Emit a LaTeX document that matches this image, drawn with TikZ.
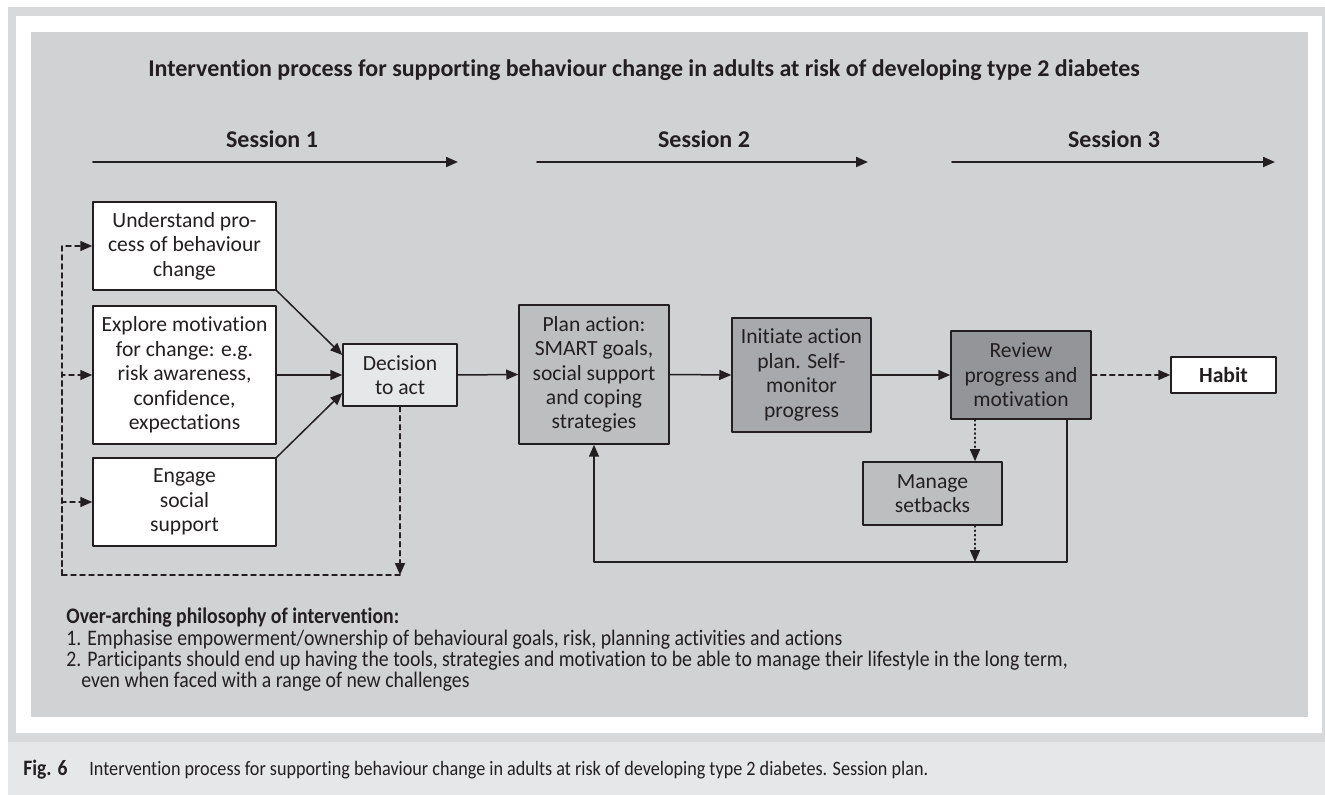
\documentclass[tikz,border=0pt]{standalone}
\usepackage{fontspec}
\setmainfont{Carlito}[Ligatures=NoCommon]
\newfontfamily\condfont[FakeStretch=0.89,Ligatures=NoCommon]{Carlito}
\usetikzlibrary{arrows.meta}

\definecolor{framegrey}{RGB}{216,217,219}
\definecolor{panelgrey}{RGB}{209,210,212}
\definecolor{capgrey}{RGB}{230,231,232}
\definecolor{lightbox}{RGB}{230,231,232}
\definecolor{midbox}{RGB}{188,190,192}
\definecolor{darkbox}{RGB}{167,169,172}
\definecolor{darkerbox}{RGB}{147,149,152}
\definecolor{inkgrey}{RGB}{35,31,32}

\begin{document}
\begin{tikzpicture}[line cap=round,line join=round,>={Triangle[length=6pt,width=5pt]},x=0.5pt,y=-0.5pt,
  box/.style={draw=inkgrey,line width=0.75pt,align=center,inner sep=0pt,text=inkgrey,
    font=\fontsize{10.8}{12.2}\selectfont},
  headline/.style={text=inkgrey,font=\bfseries\fontsize{12}{14}\selectfont},
  note/.style={anchor=west,inner sep=0pt,text=inkgrey,font=\condfont\fontsize{11.1}{13}\selectfont},
  link/.style={draw=inkgrey,line width=0.75pt},
  dashlink/.style={link,dash pattern=on 2.5pt off 2pt},
  dotlink/.style={link,dash pattern=on 0.6pt off 1.6pt},
  sessionarrow/.style={draw=inkgrey,line width=1pt}]
\useasboundingbox (0,0) rectangle (1325,795);
%background and frame
\fill[framegrey] (8,7) rectangle (1325,742);
\fill[white] (16,16) rectangle (1322,733);
\fill[panelgrey] (31,32) rectangle (1308,717);
\fill[capgrey] (8,742) rectangle (1325,795);

\node[headline] (title) at (644,70) {Intervention process for supporting behaviour change in adults at risk of developing type 2 diabetes};

%sessions
\node[headline] (ses1) at (272,139) {Session 1};
\node[headline] (ses2) at (704,139) {Session 2};
\node[headline] (ses3) at (1114,139) {Session 3};
\coordinate (s1a) at (93,162);
\coordinate (s1b) at (458,162);
\coordinate (s2a) at (537,162);
\coordinate (s2b) at (868,162);
\coordinate (s3a) at (952,162);
\coordinate (s3b) at (1275,162);
\draw[sessionarrow,->] (s1a) -- (s1b);
\draw[sessionarrow,->] (s2a) -- (s2b);
\draw[sessionarrow,->] (s3a) -- (s3b);

%boxes
\node[box,fill=white,minimum width=91.5pt,minimum height=44pt] (und) at (184.5,246) {Understand pro-\\cess of behaviour\\change};
\node[box,fill=white,minimum width=91.5pt,minimum height=69pt] (mot) at (184.5,375) {Explore motivation\\for change: e.g.\\risk awareness,\\confidence,\\expectations};
\node[box,fill=white,minimum width=91.5pt,minimum height=44pt] (eng) at (184.5,502) {Engage\\social\\support};
\node[box,fill=lightbox,minimum width=57pt,minimum height=31pt] (dec) at (400,375) {Decision\\to act};
\node[box,fill=midbox,minimum width=75pt,minimum height=69.5pt] (plan) at (594,374.5) {Plan action:\\SMART goals,\\social support\\and coping\\strategies};
\node[box,fill=darkbox,minimum width=69.5pt,minimum height=57pt] (init) at (801.5,375) {Initiate action\\plan. Self-\\monitor\\progress};
\node[box,fill=darkerbox,minimum width=70pt,minimum height=44pt] (rev) at (1021,375) {Review\\progress and\\motivation};
\node[box,fill=white,minimum width=52.5pt,minimum height=18pt] (habit) at (1223.5,375) {\textbf{Habit}};
\node[box,fill=midbox,minimum width=69.5pt,minimum height=31.5pt] (mng) at (932.5,493.5) {Manage\\setbacks};

%main flow
\draw[link,->] (und.south east) -- ([yshift=10pt]dec.west);
\draw[link,->] (mot.east) -- (dec.west);
\draw[link,->] (eng.north east) -- ([yshift=-9pt]dec.west);
\draw[link,->] (dec.east) -- (plan.west);
\draw[link,->] (plan.east) -- (init.west);
\draw[link,->] (init.east) -- (rev.west);
\draw[dashlink,->] (rev.east) -- (habit.west);

%return loop of session 1
\coordinate (retcorner) at (62,575);
\draw[dashlink,->] (dec.south) -- (dec.south |- retcorner);
\draw[dashlink] (dec.south |- retcorner) -- (retcorner);
\draw[dashlink,->] (retcorner) |- (und.west);
\draw[dashlink,->] (retcorner) |- (mot.west);
\draw[dashlink,->] (retcorner) |- (eng.west);

%setbacks and feedback to planning
\coordinate (dotx) at (975,0);
\coordinate (loopcorner) at (1067,562);
\draw[dotlink,->] (rev.south -| dotx) -- (mng.north -| dotx);
\draw[dotlink,->] (mng.south -| dotx) -- (dotx |- loopcorner);
\draw[link,->] (rev.south -| loopcorner) -- (loopcorner) -- (plan.south |- loopcorner) -- (plan.south);

%philosophy
\node[note,font=\condfont\bfseries\fontsize{11.1}{13}\selectfont] (phil) at (66,618) {Over-arching philosophy of intervention:};
\node[note] (pt1) at (66,640) {1. Emphasise empowerment/ownership of behavioural goals, risk, planning activities and actions};
\node[note] (pt2) at (66,661) {2. Participants should end up having the tools, strategies and motivation to be able to manage their lifestyle in the long term,};
\node[note] (pt3) at (81,682) {even when faced with a range of new challenges};

%caption
\node[note,font=\condfont\bfseries\fontsize{11}{13}\selectfont] (fig) at (23,770) {Fig. 6};
\node[note,font=\condfont\fontsize{10.2}{12}\selectfont] (cap) at (89,770) {Intervention process for supporting behaviour change in adults at risk of developing type 2 diabetes. Session plan.};
\end{tikzpicture}
\end{document}
